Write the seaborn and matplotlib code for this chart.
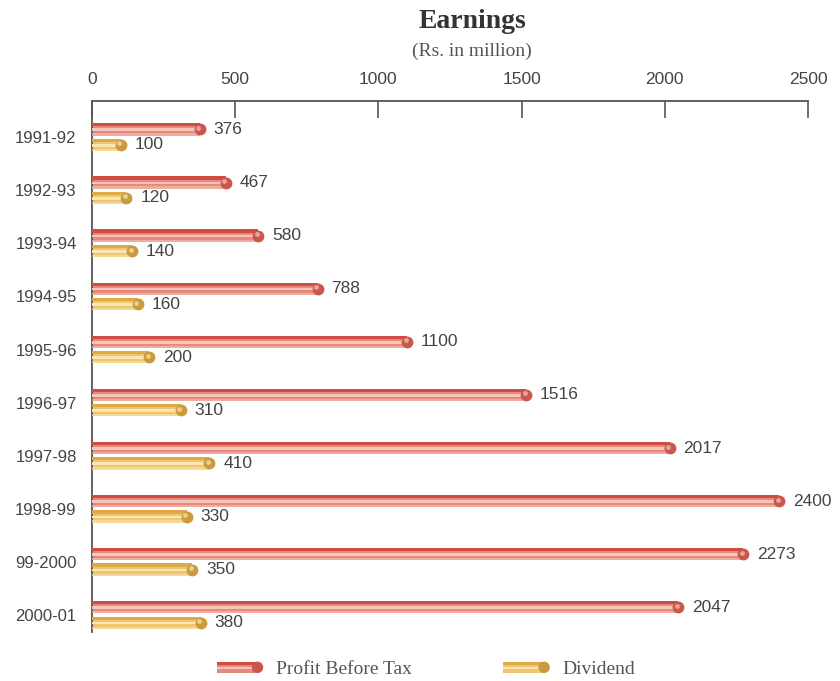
import numpy as np
import pandas as pd
import matplotlib
matplotlib.use("Agg")
import matplotlib.pyplot as plt
from matplotlib.patches import Rectangle, Circle
from matplotlib.legend_handler import HandlerBase
import seaborn as sns

years = ["1991-92", "1992-93", "1993-94", "1994-95", "1995-96",
         "1996-97", "1997-98", "1998-99", "99-2000", "2000-01"]
profit_before_tax = [376, 467, 580, 788, 1100, 1516, 2017, 2400, 2273, 2047]
dividend = [100, 120, 140, 160, 200, 310, 410, 330, 350, 380]
series_names = ["Profit Before Tax", "Dividend"]
x_ticks = [0, 500, 1000, 1500, 2000, 2500]

body = {"Profit Before Tax": "#e58a7c", "Dividend": "#efc56f"}
shine = {"Profit Before Tax": "#f6c6ba", "Dividend": "#fae6b0"}
shade = {"Profit Before Tax": "#cf4c44", "Dividend": "#dcab48"}
cap = {"Profit Before Tax": "#c9574e", "Dividend": "#c99a3e"}

df = pd.DataFrame({
    "year": years * 2,
    "value": profit_before_tax + dividend,
    "series": [series_names[0]] * len(years) + [series_names[1]] * len(years),
})

sns.set_theme(style="white")
plt.rcParams["font.family"] = ["Liberation Sans", "DejaVu Sans"]
serif = ["Liberation Serif", "DejaVu Serif"]

fig = plt.figure(figsize=(8.4, 6.81), dpi=100)
ax = fig.add_axes([92 / 840, 1 - 632 / 681, (808 - 92) / 840, (632 - 101) / 681])

sns.barplot(data=df, x="value", y="year", hue="series", orient="h",
            hue_order=series_names, palette=body, width=0.58, gap=0.2,
            saturation=1, legend=False, ax=ax, linewidth=0, errorbar=None)

# cylinder shading on each bar (dark rim on top, light band in the middle)
# and a round end cap
for container, name in zip(ax.containers, series_names):
    for bar in container:
        x0, y0 = bar.get_x(), bar.get_y()
        w, h = bar.get_width(), bar.get_height()
        ax.add_patch(Rectangle((x0, y0), w, h * 0.26,
                               color=shade[name], lw=0, zorder=3))
        ax.add_patch(Rectangle((x0, y0 + h * 0.42), w, h * 0.22,
                               color=shine[name], lw=0, zorder=3))
        ax.add_patch(Rectangle((x0, y0 + h * 0.82), w, h * 0.18,
                               color=shine[name], lw=0, alpha=0.6, zorder=3))
        cy = y0 + h / 2
        ax.plot([w], [cy], marker="o", ms=8.5, color=cap[name],
                mec="none", zorder=4, clip_on=False)
        ax.plot([w - 5], [cy - h * 0.12], marker="o", ms=3.5,
                color=shine[name], mec="none", zorder=5, alpha=0.7,
                clip_on=False)
        ax.annotate(f"{int(w)}", xy=(w, cy), xytext=(10, 0),
                    textcoords="offset points", ha="left", va="center",
                    fontsize=12.5, color="#444444")

ax.set_xlim(0, 2500)
ax.set_ylim(9.32, -0.68)
ax.set_xticks(x_ticks)
ax.set_xticklabels([str(t) for t in x_ticks])
ax.xaxis.tick_top()
ax.tick_params(axis="x", top=True, bottom=False, direction="in", length=12,
               width=1.2, color="#555555", pad=10, labelsize=12.5,
               labelcolor="#444444")
ax.tick_params(axis="y", left=False, pad=5, labelsize=12,
               labelcolor="#444444")
ax.set_xlabel("")
ax.set_ylabel("")
for side in ["right", "bottom"]:
    ax.spines[side].set_visible(False)
for side in ["top", "left"]:
    ax.spines[side].set_color("#555555")
    ax.spines[side].set_linewidth(1.3)

fig.text(472 / 840, 1 - 22 / 681, "Earnings", ha="center", va="center",
         family=serif, fontweight="bold", fontsize=20, color="#333333")
fig.text(472 / 840, 1 - 51 / 681, "(Rs. in million)", ha="center",
         va="center", family=serif, fontsize=14, color="#555555")


class CylinderHandle:
    def __init__(self, name):
        self.name = name


class CylinderHandler(HandlerBase):
    def create_artists(self, legend, orig_handle, xdescent, ydescent,
                       width, height, fontsize, trans):
        n = orig_handle.name
        h = height * 0.7
        y0 = (height - h) / 2 - ydescent
        x0 = -xdescent
        arts = [
            Rectangle((x0, y0), width, h, color=body[n], lw=0),
            Rectangle((x0, y0 + h * 0.74), width, h * 0.26, color=shade[n], lw=0),
            Rectangle((x0, y0 + h * 0.36), width, h * 0.22, color=shine[n], lw=0),
            Circle((x0 + width, y0 + h / 2), h * 0.55, color=cap[n], lw=0),
        ]
        for a in arts:
            a.set_transform(trans)
        return arts


handles = [CylinderHandle(n) for n in series_names]
fig.legend(handles, series_names,
           handler_map={CylinderHandle: CylinderHandler()},
           loc="center", bbox_to_anchor=(426 / 840, 1 - 669 / 681), ncol=2,
           frameon=False, handlelength=2.1, handleheight=0.8,
           handletextpad=0.95, columnspacing=4.7,
           prop={"family": serif, "size": 14}, labelcolor="#555555")

fig.savefig("out.png", dpi=100)
